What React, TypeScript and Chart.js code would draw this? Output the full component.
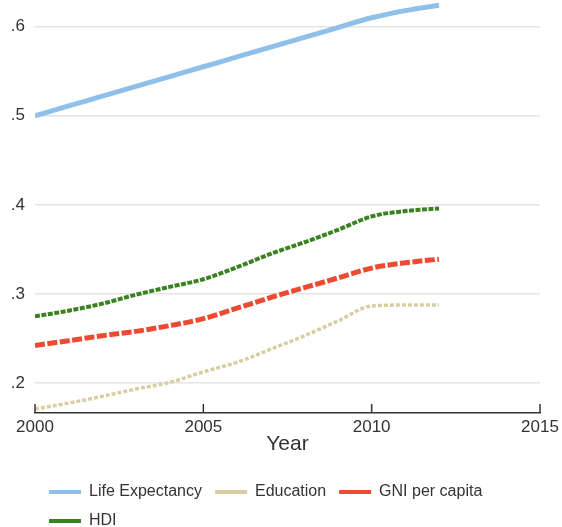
import React, { useEffect, useRef } from "react";
import { Chart, registerables } from "chart.js";

Chart.register(...registerables);

const years = [2000, 2001, 2002, 2003, 2004, 2005, 2006, 2007, 2008, 2009, 2010, 2011, 2012];
const lifeExpectancy = [0.5, 0.511, 0.522, 0.533, 0.544, 0.555, 0.566, 0.577, 0.588, 0.599, 0.61, 0.618, 0.624];
const education = [0.1708, 0.1775, 0.185, 0.1933, 0.2007, 0.2125, 0.2233, 0.238, 0.253, 0.2697, 0.2865, 0.2875, 0.2875];
const gniPerCapita = [0.2422, 0.2475, 0.2531, 0.258, 0.2644, 0.2722, 0.284, 0.296, 0.307, 0.318, 0.329, 0.335, 0.339];
const hdi = [0.2748, 0.2812, 0.2891, 0.2992, 0.3079, 0.3165, 0.33, 0.345, 0.358, 0.372, 0.387, 0.393, 0.396];
const yTicks = [0.2, 0.3, 0.4, 0.5, 0.6];
const xTicks = [2000, 2005, 2010, 2015];

const FONT = "'Liberation Sans', Arial, sans-serif";
const AXIS = "#333333";

export default function App() {
  const ref = useRef<HTMLCanvasElement>(null);
  useEffect(() => {
    if (!ref.current) return;
    const toPts = (arr: number[]) => years.map((x, i) => ({ x, y: arr[i] }));
    const custom = {
      id: "custom",
      beforeLayout(chart: any) {
        const lg = chart.legend;
        if (lg && !lg.__patched) {
          const orig = lg.fit;
          lg.fit = function () {
            orig.call(this);
            this.height = 70;
          };
          lg.__patched = true;
        }
      },
      beforeDraw(chart: any) {
        const lg = chart.legend;
        if (lg) {
          lg.left = 36;
          lg.right = 562;
          lg.top = 471;
        }
      },
      afterDraw(chart: any) {
        const xs = chart.scales.x;
        const ctx = chart.ctx;
        ctx.save();
        ctx.strokeStyle = AXIS;
        ctx.lineWidth = 1.5;
        xs.ticks.forEach((t: any) => {
          const px = xs.getPixelForValue(t.value);
          ctx.beginPath();
          ctx.moveTo(px, xs.top);
          ctx.lineTo(px, xs.top - 9);
          ctx.stroke();
        });
        ctx.restore();
      },
    };
    const chart = new Chart(ref.current, {
      type: "line",
      data: {
        datasets: [
          { label: "Life Expectancy", data: toPts(lifeExpectancy), borderColor: "#8ec0ea", backgroundColor: "#8ec0ea", borderWidth: 5, pointRadius: 0, cubicInterpolationMode: "monotone" },
          { label: "Education", data: toPts(education), borderColor: "#d9cea3", backgroundColor: "#d9cea3", borderWidth: 3.5, borderDash: [4, 2], pointRadius: 0, cubicInterpolationMode: "monotone" },
          { label: "GNI per capita", data: toPts(gniPerCapita), borderColor: "#ec4a31", backgroundColor: "#ec4a31", borderWidth: 5, borderDash: [10, 2.5], pointRadius: 0, cubicInterpolationMode: "monotone" },
          { label: "HDI", data: toPts(hdi), borderColor: "#3a8120", backgroundColor: "#3a8120", borderWidth: 4, borderDash: [5, 1.5], pointRadius: 0, cubicInterpolationMode: "monotone" },
        ],
      },
      options: {
        animation: false,
        responsive: false,
        layout: { padding: { top: 0, right: 22, left: 0, bottom: 0 } },
        plugins: {
          tooltip: { enabled: false },
          legend: {
            position: "bottom",
            align: "start",
            labels: {
              boxWidth: 32,
              boxHeight: 4,
              padding: 13,
              color: "#333",
              font: { family: FONT, size: 16 },
              generateLabels: (c: any) =>
                c.data.datasets.map((d: any, i: number) => ({
                  text: d.label,
                  fillStyle: d.borderColor,
                  strokeStyle: d.borderColor,
                  lineWidth: 0,
                  hidden: false,
                  datasetIndex: i,
                  fontColor: "#333",
                })),
            },
          },
        },
        scales: {
          x: {
            type: "linear",
            min: 2000,
            max: 2015,
            afterBuildTicks: (s: any) => { s.ticks = xTicks.map((v) => ({ value: v })); },
            afterFit: (s: any) => { s.height = 44; s.paddingLeft = 0; s.paddingRight = 0; },
            grid: { drawOnChartArea: false, drawTicks: false },
            border: { display: true, color: AXIS, width: 1.5 },
            ticks: { color: "#333", font: { family: FONT, size: 17 }, padding: 4, maxRotation: 0, callback: (v: any) => String(v) },
            title: { display: true, text: "Year", color: "#333", font: { family: FONT, size: 21 }, padding: { top: 0, bottom: 0 } },
          },
          y: {
            min: 0.16635,
            max: 0.62995,
            afterBuildTicks: (s: any) => { s.ticks = yTicks.map((v) => ({ value: v })); },
            afterFit: (s: any) => { s.width = 35; s.paddingTop = 0; s.paddingBottom = 0; },
            grid: { color: "#e4e4e4", lineWidth: 1.5, drawTicks: false },
            border: { display: false },
            ticks: {
              color: "#333",
              font: { family: FONT, size: 17 },
              padding: 10,
              callback: (v: any) => Number(v).toFixed(1).replace(/^0/, ""),
            },
          },
        },
      },
      plugins: [custom],
    } as any);
    return () => chart.destroy();
  }, []);
  return (
    <div style={{ position: "fixed", left: 0, top: 0, width: 562, height: 527, background: "#fff" }}>
      <canvas ref={ref} width={562} height={527} style={{ width: 562, height: 527 }} />
    </div>
  );
}
